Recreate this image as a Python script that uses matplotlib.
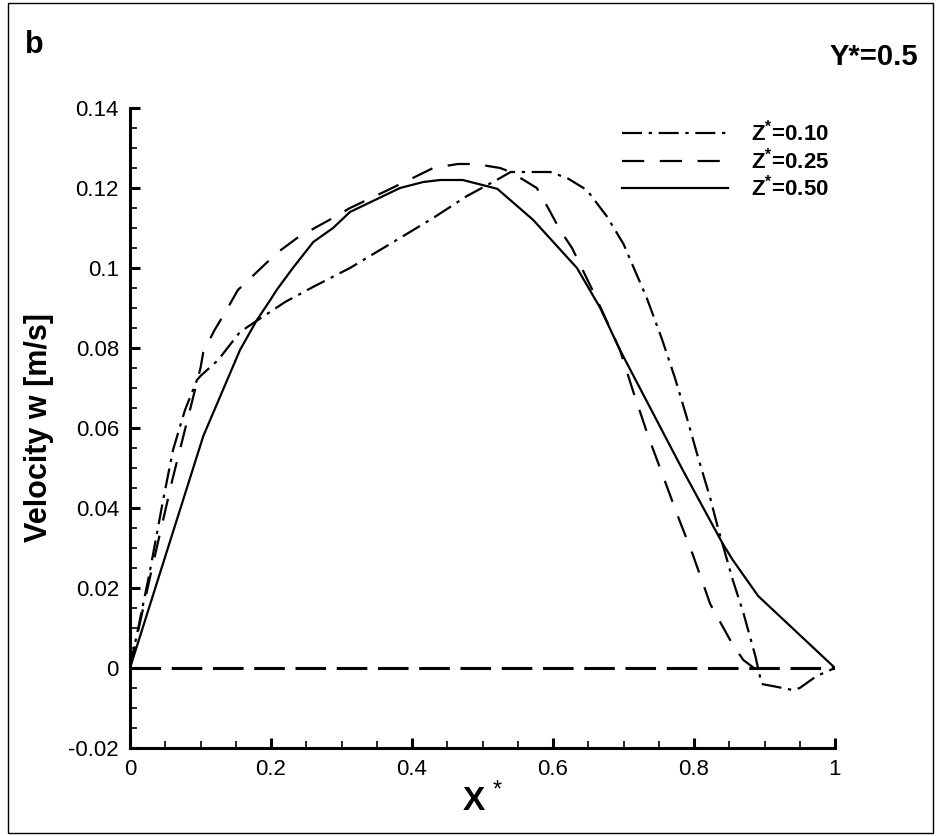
import matplotlib
matplotlib.use("Agg")
import matplotlib.pyplot as plt
from matplotlib.patches import Rectangle

plt.rcParams['font.family'] = ['Liberation Sans', 'DejaVu Sans']
plt.rcParams['mathtext.fontset'] = 'custom'
plt.rcParams['mathtext.rm'] = 'Liberation Sans'
plt.rcParams['mathtext.bf'] = 'Liberation Sans:bold'

# Z* = 0.10 (dash-dot)
x_z010 = [0, 0.028, 0.047, 0.061, 0.078, 0.095, 0.1, 0.125, 0.156, 0.19, 0.22, 0.26,
          0.312, 0.383, 0.43, 0.478, 0.52, 0.54, 0.563, 0.596, 0.62, 0.648, 0.676, 0.70,
          0.733, 0.754, 0.773, 0.79, 0.806, 0.823, 0.834, 0.855, 0.87, 0.887, 0.896,
          0.917, 0.94, 0.95, 0.974, 1.0]
w_z010 = [0, 0.024, 0.042, 0.0545, 0.0645, 0.072, 0.073, 0.077, 0.084, 0.088, 0.0915, 0.0953,
          0.100, 0.1075, 0.1125, 0.118, 0.122, 0.124, 0.124, 0.124, 0.1225, 0.1195, 0.113, 0.106,
          0.0925, 0.0825, 0.0725, 0.0625, 0.0525, 0.0425, 0.035, 0.022, 0.0138, 0.003, -0.004,
          -0.0047, -0.0055, -0.005, -0.002, 0.0]

# Z* = 0.25 (dashed)
x_z025 = [0, 0.03, 0.06, 0.1, 0.104, 0.12, 0.137, 0.153, 0.18, 0.208, 0.237, 0.262, 0.293,
          0.312, 0.36, 0.407, 0.43, 0.465, 0.49, 0.525, 0.54, 0.577, 0.59, 0.61, 0.627, 0.66,
          0.695, 0.714, 0.735, 0.756, 0.777, 0.799, 0.823, 0.855, 0.87, 0.885]
w_z025 = [0, 0.024, 0.047, 0.075, 0.079, 0.0845, 0.0895, 0.0945, 0.099, 0.1037, 0.1075, 0.110,
          0.113, 0.115, 0.119, 0.123, 0.125, 0.126, 0.126, 0.125, 0.124, 0.120, 0.116, 0.1095,
          0.105, 0.093, 0.0795, 0.069, 0.058, 0.048, 0.038, 0.028, 0.016, 0.0058, 0.002, 0.0]

# Z* = 0.50 (solid)
x_z050 = [0, 0.104, 0.156, 0.18, 0.199, 0.208, 0.231, 0.26, 0.288, 0.312, 0.383, 0.416, 0.44,
          0.472, 0.521, 0.572, 0.634, 0.667, 0.695, 0.738, 0.784, 0.841, 0.855, 0.891, 1.0]
w_z050 = [0, 0.058, 0.0795, 0.087, 0.092, 0.0945, 0.100, 0.1065, 0.110, 0.114, 0.120, 0.1215,
          0.122, 0.122, 0.1198, 0.112, 0.100, 0.09, 0.0795, 0.065, 0.0495, 0.031, 0.027, 0.018, 0.0]

labels = [r'Z$^{\mathbf{*}}$=0.10', r'Z$^{\mathbf{*}}$=0.25', r'Z$^{\mathbf{*}}$=0.50']

W, H = 936, 836
fig = plt.figure(figsize=(W / 100, H / 100), dpi=100)
ax = fig.add_axes([130 / W, 1 - 748 / H, 705 / W, 640 / H])

ax.plot([0, 1], [0, 0], color='black', lw=2.2, dashes=(10, 3.5))
l1, = ax.plot(x_z010, w_z010, color='black', lw=1.6, dashes=(9, 3, 1.5, 3))
l2, = ax.plot(x_z025, w_z025, color='black', lw=1.6, dashes=(10, 7))
l3, = ax.plot(x_z050, w_z050, color='black', lw=1.6)

ax.set_xlim(0, 1)
ax.set_ylim(-0.02, 0.14)
ax.set_xticks([0, 0.2, 0.4, 0.6, 0.8, 1])
ax.set_xticklabels(['0', '0.2', '0.4', '0.6', '0.8', '1'])
ax.set_yticks([-0.02, 0, 0.02, 0.04, 0.06, 0.08, 0.1, 0.12, 0.14])
ax.set_yticklabels(['-0.02', '0', '0.02', '0.04', '0.06', '0.08', '0.1', '0.12', '0.14'])
ax.set_xticks([i * 0.05 for i in range(21)], minor=True)
ax.set_yticks([-0.02 + i * 0.005 for i in range(33)], minor=True)

for s in ['top', 'right']:
    ax.spines[s].set_visible(False)
for s in ['left', 'bottom']:
    ax.spines[s].set_linewidth(2.2)
ax.tick_params(which='major', direction='in', length=7.5, width=2.2, labelsize=16, pad=8)
ax.tick_params(which='minor', direction='in', length=5, width=1.2)

ax.set_xlabel(r'X$^{\,*}$', fontsize=24, fontweight='bold', labelpad=2)
ax.set_ylabel('Velocity w [m/s]', fontsize=22, fontweight='bold', labelpad=10)

ax.legend([l1, l2, l3], labels, loc='upper left', bbox_to_anchor=(0.685, 0.995),
          frameon=False, prop={'size': 16, 'weight': 'bold'}, handlelength=4.8,
          handletextpad=1.0, labelspacing=0.07, borderaxespad=0)

fig.text(25 / W, 1 - 45 / H, 'b', fontsize=22, fontweight='bold', va='center', ha='left')
fig.text(918 / W, 1 - 57 / H, 'Y*=0.5', fontsize=21, fontweight='bold', va='center', ha='right')

fig.patches.append(Rectangle((8 / W, 3 / H), 925 / W, 830 / H, transform=fig.transFigure,
                             fill=False, edgecolor='black', lw=1.0))

fig.savefig('out.png', dpi=100)
